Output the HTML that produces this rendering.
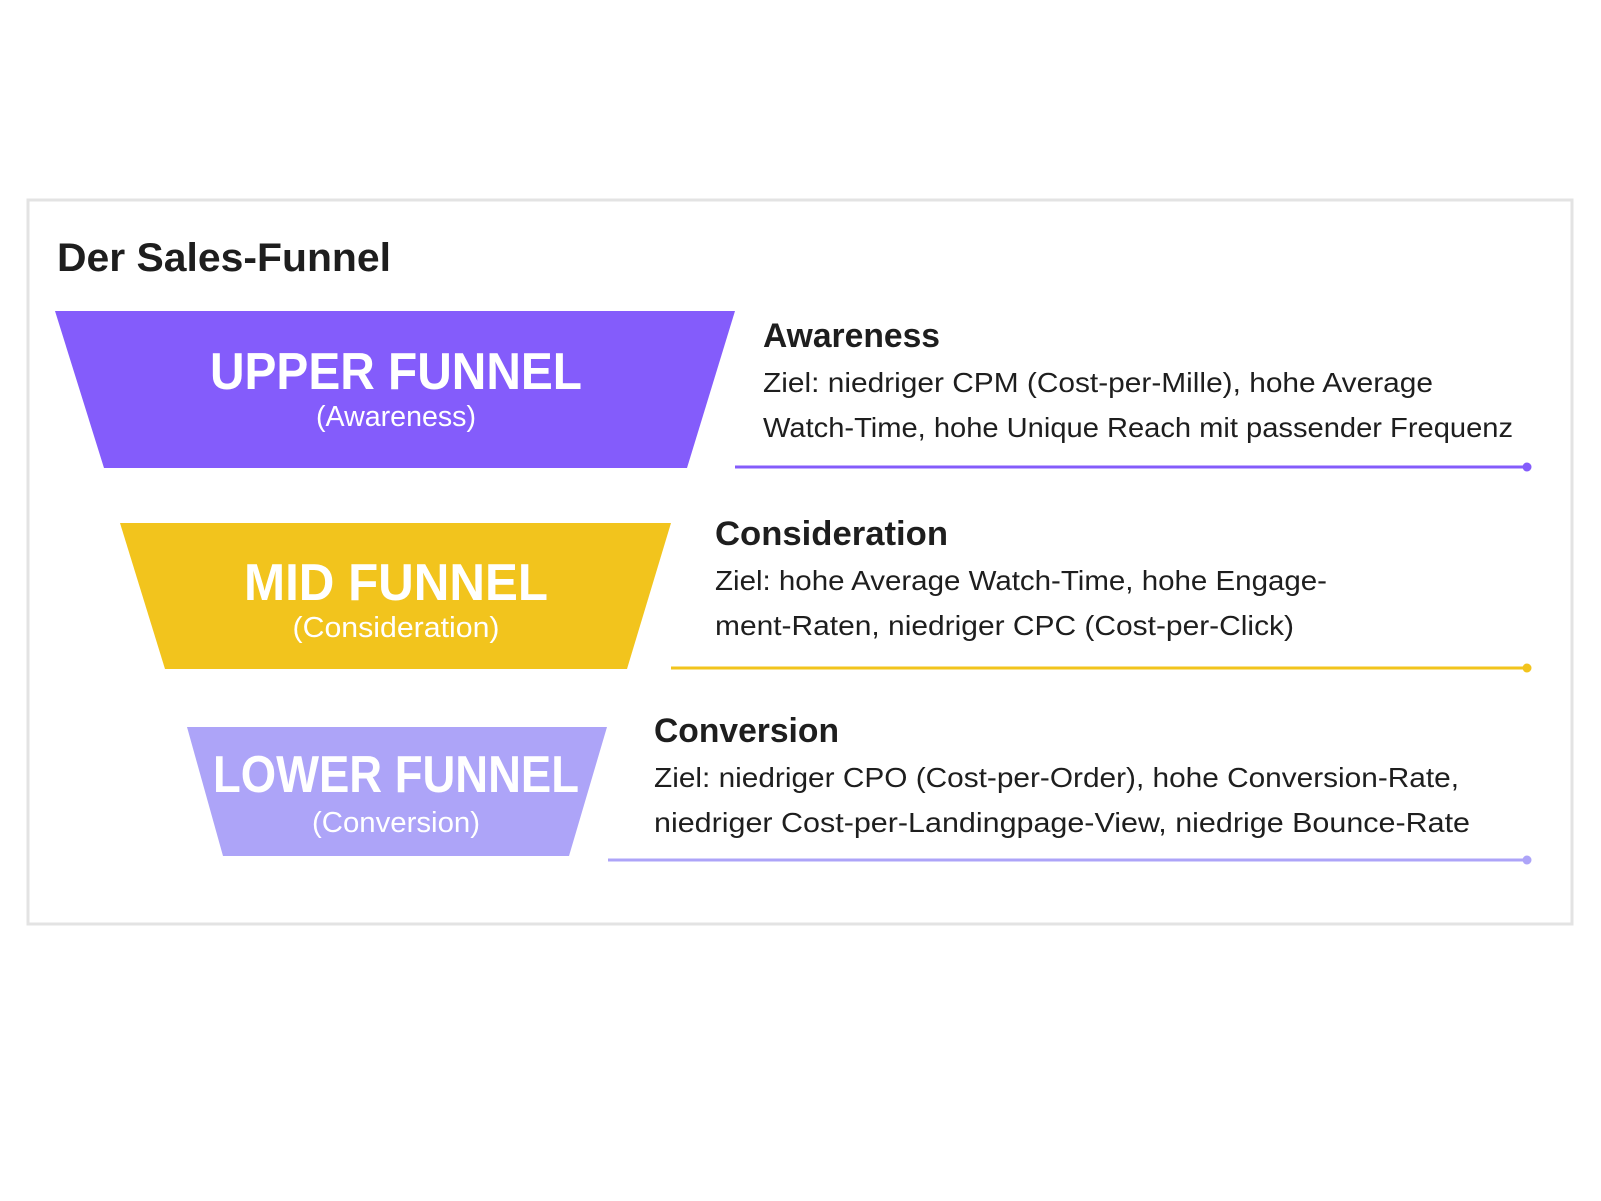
<!DOCTYPE html>
<html><head><meta charset="utf-8"><style>
html,body{margin:0;padding:0;background:#fff;}
svg{display:block;font-family:"Liberation Sans",sans-serif;}
</style></head><body>
<svg width="1601" height="1201" viewBox="0 0 1601 1201" xmlns="http://www.w3.org/2000/svg">
<rect x="28" y="200" width="1544" height="724" fill="#fff" stroke="#e3e3e3" stroke-width="3"/>
<text x="57" y="271" font-size="40" font-weight="bold" fill="#1e1e1e" textLength="334" lengthAdjust="spacingAndGlyphs">Der Sales-Funnel</text>

<polygon points="55,311 735,311 687,468 104,468" fill="#845cfb"/>
<text x="396" y="389" font-size="52" font-weight="bold" fill="#fff" text-anchor="middle" textLength="372" lengthAdjust="spacingAndGlyphs">UPPER FUNNEL</text>
<text x="396" y="426" font-size="29" fill="#fff" text-anchor="middle" textLength="160" lengthAdjust="spacingAndGlyphs">(Awareness)</text>

<polygon points="120,523 671,523 627,669 165,669" fill="#f2c41d"/>
<text x="396" y="600" font-size="52" font-weight="bold" fill="#fff" text-anchor="middle" textLength="304" lengthAdjust="spacingAndGlyphs">MID FUNNEL</text>
<text x="396" y="637" font-size="29" fill="#fff" text-anchor="middle" textLength="207" lengthAdjust="spacingAndGlyphs">(Consideration)</text>

<polygon points="187,727 607,727 569,856 223,856" fill="#ada4f8"/>
<text x="396" y="792" font-size="52" font-weight="bold" fill="#fff" text-anchor="middle" textLength="366" lengthAdjust="spacingAndGlyphs">LOWER FUNNEL</text>
<text x="396" y="832" font-size="29" fill="#fff" text-anchor="middle" textLength="168" lengthAdjust="spacingAndGlyphs">(Conversion)</text>

<g fill="#1e1e1e">
<text x="763" y="347" font-size="34" font-weight="bold" textLength="177" lengthAdjust="spacingAndGlyphs">Awareness</text>
<text x="763" y="392" font-size="28" textLength="670" lengthAdjust="spacingAndGlyphs">Ziel: niedriger CPM (Cost-per-Mille), hohe Average</text>
<text x="763" y="437" font-size="28" textLength="750" lengthAdjust="spacingAndGlyphs">Watch-Time, hohe Unique Reach mit passender Frequenz</text>

<text x="715" y="545" font-size="34" font-weight="bold" textLength="233" lengthAdjust="spacingAndGlyphs">Consideration</text>
<text x="715" y="590" font-size="28" textLength="612" lengthAdjust="spacingAndGlyphs">Ziel: hohe Average Watch-Time, hohe Engage-</text>
<text x="715" y="635" font-size="28" textLength="579" lengthAdjust="spacingAndGlyphs">ment-Raten, niedriger CPC (Cost-per-Click)</text>

<text x="654" y="742" font-size="34" font-weight="bold" textLength="185" lengthAdjust="spacingAndGlyphs">Conversion</text>
<text x="654" y="787" font-size="28" textLength="805" lengthAdjust="spacingAndGlyphs">Ziel: niedriger CPO (Cost-per-Order), hohe Conversion-Rate,</text>
<text x="654" y="832" font-size="28" textLength="816" lengthAdjust="spacingAndGlyphs">niedriger Cost-per-Landingpage-View, niedrige Bounce-Rate</text>
</g>

<line x1="735" y1="467" x2="1527" y2="467" stroke="#845cfb" stroke-width="3"/>
<circle cx="1527" cy="467" r="4.5" fill="#845cfb"/>
<line x1="671" y1="668" x2="1527" y2="668" stroke="#f2c41d" stroke-width="3"/>
<circle cx="1527" cy="668" r="4.5" fill="#f2c41d"/>
<line x1="608" y1="860" x2="1527" y2="860" stroke="#ada4f8" stroke-width="3"/>
<circle cx="1527" cy="860" r="4.5" fill="#ada4f8"/>
</svg>
</body></html>
